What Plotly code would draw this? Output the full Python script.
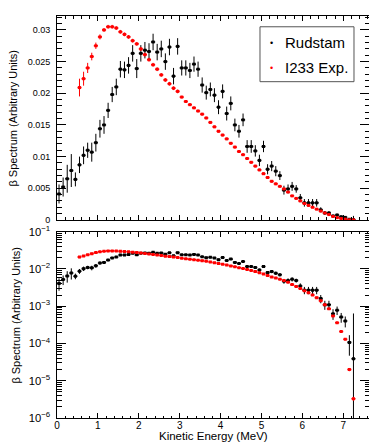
import plotly.graph_objects as go

# ---- 数据 ----
# Rudstam：能量分箱中心 (MeV)、谱值、误差
rud_e = [0.05, 0.15, 0.25, 0.35, 0.45, 0.55, 0.65, 0.75, 0.85, 0.95,
         1.05, 1.15, 1.25, 1.35, 1.45, 1.55, 1.65, 1.75, 1.85, 1.95,
         2.05, 2.15, 2.25, 2.35, 2.45, 2.55, 2.65, 2.75, 2.85, 2.95,
         3.05, 3.15, 3.25, 3.35, 3.45, 3.55, 3.65, 3.75, 3.85, 3.95,
         4.05, 4.15, 4.25, 4.35, 4.45, 4.55, 4.65, 4.75, 4.85, 4.95,
         5.05, 5.15, 5.25, 5.35, 5.45, 5.55, 5.65, 5.75, 5.85, 5.95,
         6.05, 6.15, 6.25, 6.35, 6.45, 6.55, 6.65, 6.75, 6.85, 6.95,
         7.05, 7.15, 7.25]
rud_val = [0.0041, 0.0052, 0.0065, 0.0078, 0.0064, 0.0087, 0.0102, 0.0110, 0.0107, 0.0122,
           0.0144, 0.0150, 0.0173, 0.0198, 0.0210, 0.0238, 0.0237, 0.0244, 0.0263, 0.0239,
           0.0263, 0.0268, 0.0266, 0.0281, 0.0265, 0.0270, 0.0250, 0.0273, 0.0227, 0.0274,
           0.0240, 0.0240, 0.0236, 0.0246, 0.0238, 0.0213, 0.0201, 0.0206, 0.0197, 0.0178,
           0.0203, 0.0168, 0.0184, 0.0150, 0.0140, 0.0158, 0.0116, 0.0116, 0.0109, 0.0094,
           0.0116, 0.0080, 0.0085, 0.0077, 0.0070, 0.0047, 0.0049, 0.0053, 0.0049, 0.0035,
           0.0027, 0.0027, 0.0027, 0.0027, 0.0016, 0.0011, 0.0011, 0.00063, 0.00078, 0.00051,
           0.00040, 0.000107, 0.000039]
rud_err = [0.0015, 0.0015, 0.0022, 0.0026, 0.0011, 0.0013, 0.0014, 0.0012, 0.0015, 0.0014,
           0.0014, 0.0014, 0.0012, 0.0012, 0.0013, 0.0013, 0.0013, 0.0013, 0.0013, 0.0015,
           0.0013, 0.0013, 0.0013, 0.0013, 0.0013, 0.0013, 0.0013, 0.0013, 0.0013, 0.0013,
           0.0012, 0.0012, 0.0012, 0.0012, 0.0012, 0.0012, 0.0011, 0.0011, 0.0011, 0.0011,
           0.0011, 0.0011, 0.0011, 0.0010, 0.0010, 0.0010, 0.0010, 0.0010, 0.0009, 0.0009,
           0.0009, 0.0008, 0.0008, 0.0008, 0.0007, 0.0007, 0.0007, 0.0007, 0.0006, 0.0006,
           0.0006, 0.0006, 0.0006, 0.0006, 0.0004, 0.0003, 0.0003, 0.0002, 0.0002, 0.00015,
           0.00013, 0.00006, 0.0006]

# I233 实验谱
exp_e = [0.55, 0.65, 0.75, 0.85, 0.95,
         1.05, 1.15, 1.25, 1.35, 1.45, 1.55, 1.65, 1.75, 1.85, 1.95,
         2.05, 2.15, 2.25, 2.35, 2.45, 2.55, 2.65, 2.75, 2.85, 2.95,
         3.05, 3.15, 3.25, 3.35, 3.45, 3.55, 3.65, 3.75, 3.85, 3.95,
         4.05, 4.15, 4.25, 4.35, 4.45, 4.55, 4.65, 4.75, 4.85, 4.95,
         5.05, 5.15, 5.25, 5.35, 5.45, 5.55, 5.65, 5.75, 5.85, 5.95,
         6.05, 6.15, 6.25, 6.35, 6.45, 6.55, 6.65, 6.75, 6.85, 6.95,
         7.05, 7.15, 7.25]
exp_val = [0.0209, 0.0223, 0.0240, 0.0258, 0.0275,
           0.0289, 0.0300, 0.0305, 0.0305, 0.0303, 0.0297, 0.0293, 0.0289, 0.0283, 0.0278,
           0.0270, 0.0261, 0.0253, 0.0245, 0.0238, 0.0229, 0.0221, 0.0215, 0.0208, 0.0203,
           0.0194, 0.0187, 0.0182, 0.0177, 0.0172, 0.0167, 0.0161, 0.0154, 0.0147, 0.0140,
           0.0134, 0.0128, 0.0121, 0.0115, 0.0108, 0.0103, 0.0097, 0.0091, 0.0085, 0.0079,
           0.0073, 0.0067, 0.0061, 0.0057, 0.0053, 0.0049, 0.0044, 0.0038, 0.0034, 0.0030,
           0.0026, 0.0023, 0.0020, 0.0017, 0.0014, 0.0011, 0.00085, 0.00055, 0.00036, 0.00021,
           0.00013, 0.00002, 0.0000033]
exp_err = [0.0014, 0.0011, 0.0008, 0.0006, 0.0005,
           0.0004, 0.0003, 0.0003, 0.0003, 0.0003, 0.0003, 0.0003, 0.0003, 0.0003, 0.0003,
           0.0003, 0.0003, 0.0003, 0.0003, 0.0003, 0.0003, 0.0003, 0.0003, 0.0003, 0.0003,
           0.0002, 0.0002, 0.0002, 0.0002, 0.0002, 0.0002, 0.0002, 0.0002, 0.0002, 0.0002,
           0.0002, 0.0002, 0.0002, 0.0002, 0.0002, 0.0002, 0.0002, 0.0002, 0.0002, 0.0002,
           0.0002, 0.0002, 0.0002, 0.0002, 0.0001, 0.0001, 0.0001, 0.0001, 0.0001, 0.0001,
           0.0001, 0.0001, 0.0001, 0.0001, 0.0001, 0.0001, 0.00005, 0.00003, 0.00002, 0.00001,
           0.000008, 0.000002, 0.0000004]

legend_names = ["Rudstam", "I233 Exp."]
legend_colors = ["#000000", "#ff0000"]

BIN_HALF = 0.05
FONT = "Liberation Sans, Arial, Helvetica, sans-serif"


def add_series(fig, x, y, err, color, name, xa, ya):
    fig.add_trace(go.Scatter(
        x=x, y=y, mode="markers", name=name,
        xaxis=xa, yaxis=ya, showlegend=False,
        marker=dict(symbol="square", size=3, color=color),
        error_x=dict(type="constant", value=BIN_HALF, color=color,
                     thickness=1.6, width=0),
        error_y=dict(type="data", array=err, color=color,
                     thickness=1, width=0),
    ))


fig = go.Figure()
# 上图：线性坐标
add_series(fig, rud_e, rud_val, rud_err, legend_colors[0], legend_names[0], "x", "y")
add_series(fig, exp_e, exp_val, exp_err, legend_colors[1], legend_names[1], "x", "y")
# 下图：对数坐标
add_series(fig, rud_e, rud_val, rud_err, legend_colors[0], legend_names[0], "x2", "y2")
add_series(fig, exp_e, exp_val, exp_err, legend_colors[1], legend_names[1], "x2", "y2")

axis_common = dict(
    showline=True, linecolor="black", linewidth=1, mirror="allticks",
    ticks="inside", tickcolor="black", showgrid=False, zeroline=False,
)

# 页面 body 默认 8px 边距：画布整体缩小 8px 以对齐
fig.update_layout(
    width=369, height=436,
    margin=dict(l=49, r=8, t=0, b=26),
    paper_bgcolor="white", plot_bgcolor="white",
    font=dict(family=FONT, color="black"),
    showlegend=False,
    xaxis=dict(domain=[0, 1], anchor="y", range=[0, 7.63], dtick=1,
               ticklen=5, showticklabels=False,
               minor=dict(dtick=0.2, ticklen=2.5, ticks="inside", tickcolor="black"),
               **axis_common),
    yaxis=dict(domain=[0.4927, 1], anchor="x", range=[0, 0.0322], dtick=0.005,
               ticklen=9, ticklabelstandoff=4,
               tickfont=dict(family=FONT, size=9, color="black"),
               minor=dict(dtick=0.001, ticklen=4.5, ticks="inside", tickcolor="black"),
               **axis_common),
    xaxis2=dict(domain=[0, 1], anchor="y2", range=[0, 7.63], dtick=1,
                ticklen=5, matches="x", ticklabelstandoff=-2,
                tickfont=dict(family=FONT, size=10, color="black"),
                minor=dict(dtick=0.2, ticklen=2.5, ticks="inside", tickcolor="black"),
                **axis_common),
    yaxis2=dict(domain=[0, 0.4634], anchor="x2", type="log", range=[-6, -1],
                dtick=1, exponentformat="power", ticklen=9, ticklabelstandoff=4,
                tickfont=dict(family=FONT, size=9, color="black"),
                minor=dict(dtick="D1", ticklen=4.5, ticks="inside", tickcolor="black"),
                **axis_common),
)

# 轴标题
fig.add_annotation(text="β Spectrum (Arbitrary Units)", xref="paper", yref="paper",
                   x=-0.141, y=0.745, xanchor="center", yanchor="middle",
                   textangle=-90, showarrow=False, font=dict(family=FONT, size=11))
fig.add_annotation(text="β Spectrum (Arbitrary Units)", xref="paper", yref="paper",
                   x=-0.131, y=0.255, xanchor="center", yanchor="middle",
                   textangle=-90, showarrow=False, font=dict(family=FONT, size=11))
fig.add_annotation(text="Kinetic Energy (MeV)", xref="paper", yref="paper",
                   x=0.5, y=-0.044, xanchor="center", yanchor="middle",
                   showarrow=False, font=dict(family=FONT, size=11.5))

# 图例（ROOT 风格方框）
fig.add_shape(type="rect", xref="paper", yref="paper",
              x0=0.6506, x1=0.9519, y0=0.8366, y1=0.9732,
              line=dict(color="#555555", width=1), fillcolor="white")
legend_y = [0.934, 0.8707]
for name, color, ly in zip(legend_names, legend_colors, legend_y):
    fig.add_annotation(text="•", xref="paper", yref="paper", x=0.6859, y=ly,
                       xanchor="center", yanchor="middle", showarrow=False,
                       font=dict(family=FONT, size=9, color=color))
    fig.add_annotation(text=name, xref="paper", yref="paper", x=0.7244, y=ly,
                       xanchor="left", yanchor="middle", showarrow=False,
                       font=dict(family=FONT, size=15, color="black"))

fig.write_html("out.html")
